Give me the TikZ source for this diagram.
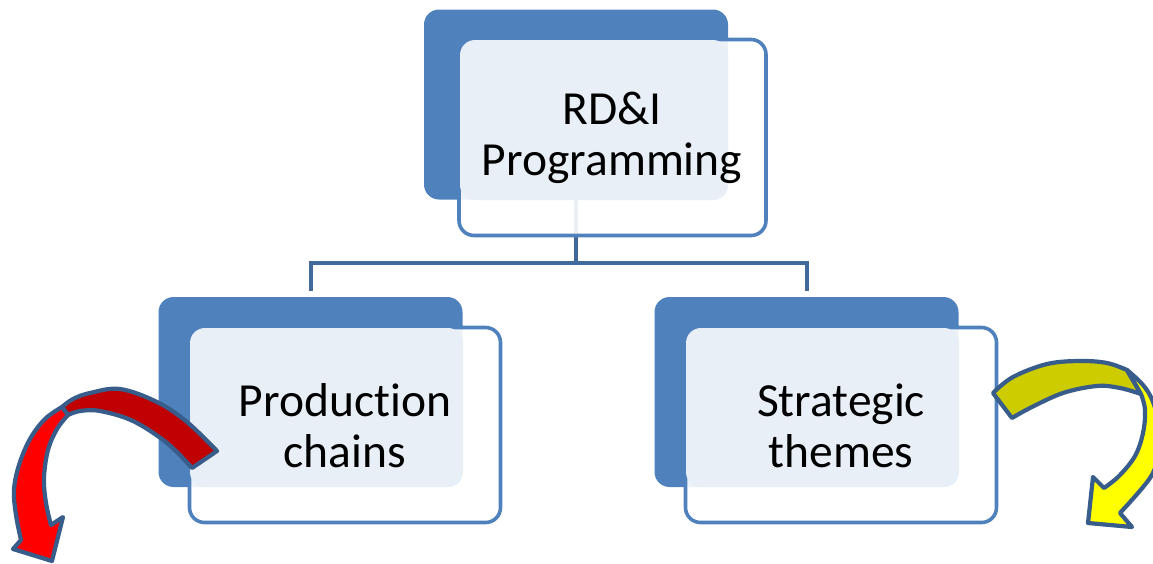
\documentclass[tikz,border=0pt]{standalone}
\usepackage{fontspec}
\setmainfont{Carlito}[Ligatures={NoCommon}]
\definecolor{boxblue}{HTML}{4F81BD}
\definecolor{panelc}{HTML}{E9EFF7}
\definecolor{conn}{HTML}{3F6A9B}
\definecolor{arrline}{HTML}{385D8A}
\definecolor{redback}{HTML}{C00000}
\definecolor{redfront}{HTML}{FF0000}
\definecolor{yelback}{HTML}{CCCC00}
\definecolor{yelfront}{HTML}{FFFF00}
\pgfdeclarelayer{bg}
\pgfsetlayers{bg,main}
\tikzset{
  darkbox/.style={fill=boxblue, rounded corners=15pt, minimum width=304pt, minimum height=190pt, inner sep=0pt, outer sep=0pt},
  whitebox/.style={draw=boxblue, line width=3.6pt, fill=white, fill opacity=0.9, rounded corners=15pt, minimum width=307pt, minimum height=196pt, inner sep=0pt, outer sep=0pt},
  panelbox/.style={fill=panelc, rounded corners=15pt, inner sep=0pt, outer sep=0pt, minimum height=160pt},
  boxtext/.style={font=\fontsize{47.5}{51}\selectfont, align=center, text=black, inner sep=0pt},
  connector/.style={draw=conn, line width=4pt},
  arrowshape/.style={draw=arrline, line width=4.2pt, line join=round},
}
\begin{document}
\begin{tikzpicture}[x=1pt, y=-1pt]
\useasboundingbox (0,0) rectangle (1153,563);
\clip (0,0) rectangle (1153,563);
% dark back boxes
\node[darkbox] (topdark) at (576,104.5) {};
\node[darkbox] (leftdark) at (310.5,392) {};
\node[darkbox] (rightdark) at (806.5,392) {};
% connectors
\begin{pgfonlayer}{bg}
\draw[connector] (topdark.south) -- ++(0,63) coordinate (hub) -| ([yshift=6pt]leftdark.north);
\draw[connector] (hub) -| ([yshift=6pt]rightdark.north);
\end{pgfonlayer}
% white front boxes
\node[whitebox] (topwhite) at (612.5,137.5) {};
\node[whitebox, minimum width=311pt, minimum height=195pt] (leftwhite) at (345,425) {};
\node[whitebox, minimum width=311pt, minimum height=195pt] (rightwhite) at (841,425) {};
% light panels
\node[panelbox, minimum width=268pt, minimum height=160pt] (toppanel) at (594,120) {};
\node[panelbox, minimum width=273pt, minimum height=159pt] (leftpanel) at (326.5,407.5) {};
\node[panelbox, minimum width=273pt, minimum height=159pt] (rightpanel) at (822.5,407.5) {};
% texts
\node[boxtext] (toptext) at (612,138) {RD\&I\\Programming};
\node[boxtext] (lefttext) at (345,426) {Production\\chains};
\node[boxtext] (righttext) at (841,426) {Strategic\\themes};
% red curved arrow
\draw[arrowshape, fill=redback]
  plot[smooth, tension=0.6] coordinates {(62,407) (73,399) (90,393) (120,389) (157,402) (187,422) (217,451)}
  -- (192,468)
  -- plot[smooth, tension=0.6] coordinates {(192,468) (167,443) (133,421) (100,411) (80,411) (68,415)}
  -- cycle;
\draw[arrowshape, fill=redfront]
  plot[smooth, tension=0.6] coordinates {(62,407) (45,419) (30,439) (19,465) (14,490) (16,515) (21,540)}
  -- (13,549) -- (52,561) -- (63,517) -- (51,525)
  -- plot[smooth, tension=0.6] coordinates {(51,525) (46,503) (44,478) (48,450) (57,429) (68,415)}
  -- cycle;
% yellow curved arrow
\draw[arrowshape, fill=yelback]
  plot[smooth, tension=0.6] coordinates {(993,393) (1013,377) (1047,364) (1080,361) (1107,363) (1127,370)}
  -- (1141,394)
  -- plot[smooth, tension=0.6] coordinates {(1141,394) (1120,388) (1097,386) (1063,393) (1030,408) (1012,418)}
  -- cycle;
\draw[arrowshape, fill=yelfront]
  plot[smooth, tension=0.6] coordinates {(1127,370) (1143,385) (1153,402) (1160,430) (1158,455) (1150,478) (1120,513)}
  -- (1132,527) -- (1088,523) -- (1093,477) -- (1104,488)
  -- plot[smooth, tension=0.6] coordinates {(1104,488) (1119,476) (1135,456) (1143,433) (1145,410) (1141,394)}
  -- cycle;
\end{tikzpicture}
\end{document}
